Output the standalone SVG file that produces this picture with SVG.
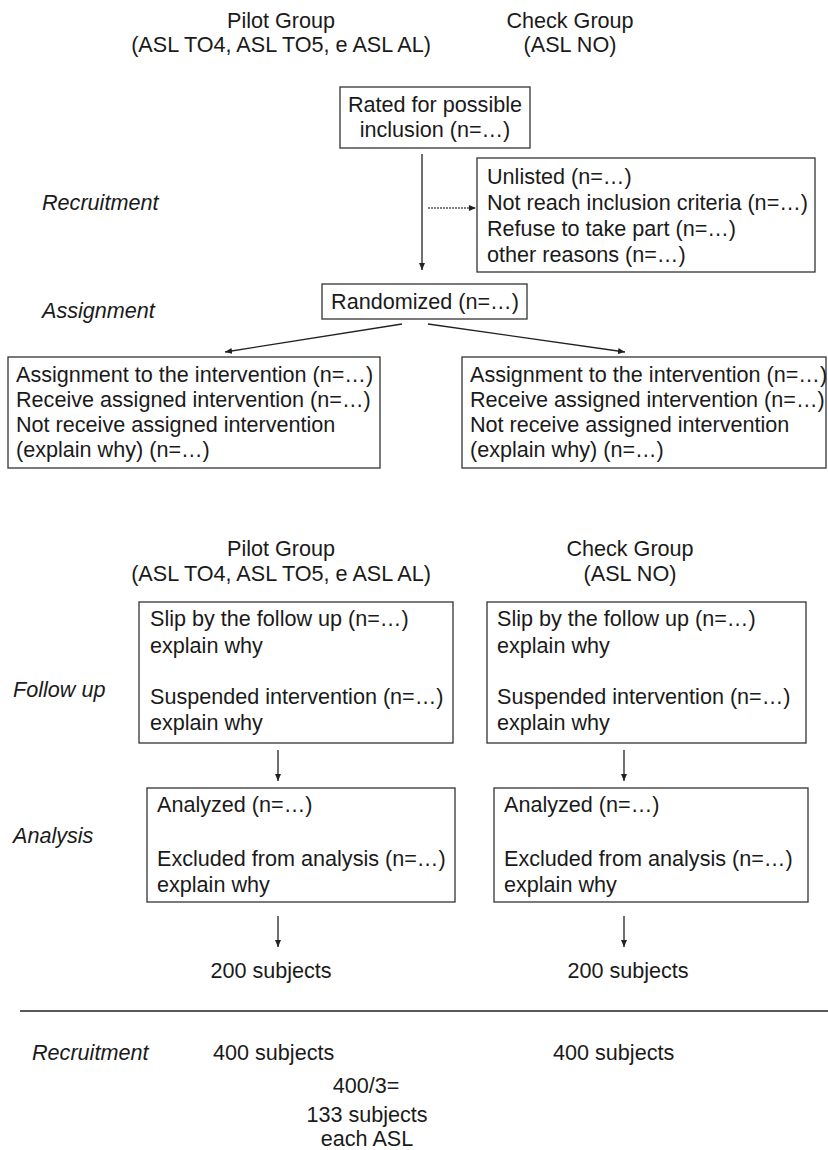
<svg xmlns="http://www.w3.org/2000/svg" width="828" height="1150" viewBox="0 0 828 1150">
<style>
text{font-family:"Liberation Sans",Arial,sans-serif;font-size:21.6px;fill:#1a1a1a}
.c{text-anchor:middle}
.i{font-style:italic}
.box{fill:#fff;stroke:#333;stroke-width:1.3}
.ln{stroke:#222;stroke-width:1.3;fill:none}
.dot{stroke:#555;stroke-width:1.3;stroke-dasharray:2 1;fill:none}
</style>
<defs>
<marker id="ah" markerWidth="8" markerHeight="8" refX="7" refY="4" orient="auto" markerUnits="userSpaceOnUse">
<path d="M0,1 L7,4 L0,7 Z" fill="#222"/>
</marker>
</defs>
<rect width="828" height="1150" fill="#fff"/>
<g id="headers1">
<text class="c" x="281" y="28">Pilot Group</text>
<text class="c" x="281" y="52">(ASL TO4, ASL TO5, e ASL AL)</text>
<text class="c" x="570" y="28">Check Group</text>
<text class="c" x="570" y="52">(ASL NO)</text>
</g>
<g id="stage-labels">
<text class="i" x="42" y="210">Recruitment</text>
<text class="i" x="42" y="318">Assignment</text>
<text class="i" x="13" y="697">Follow up</text>
<text class="i" x="13" y="843">Analysis</text>
</g>
<g id="rated">
<rect class="box" x="340" y="87" width="190" height="61"/>
<text class="c" x="435" y="112">Rated for possible</text>
<text class="c" x="435" y="137">inclusion (n=…)</text>
</g>
<g id="excluded">
<rect class="box" x="477" y="158" width="338" height="114"/>
<text x="487" y="184">Unlisted (n=…)</text>
<text x="487" y="210">Not reach inclusion criteria (n=…)</text>
<text x="487" y="236">Refuse to take part (n=…)</text>
<text x="487" y="262">other reasons (n=…)</text>
</g>
<g id="randomized">
<rect class="box" x="322" y="284" width="205" height="35"/>
<text class="c" x="425" y="309">Randomized (n=…)</text>
</g>
<g id="assign-pilot">
<rect class="box" x="8" y="357" width="372" height="111"/>
<text x="16" y="382">Assignment to the intervention (n=…)</text>
<text x="16" y="407">Receive assigned intervention (n=…)</text>
<text x="16" y="432">Not receive assigned intervention</text>
<text x="16" y="457">(explain why) (n=…)</text>
</g>
<g id="assign-check">
<rect class="box" x="462" y="357" width="364" height="111"/>
<text x="470" y="382">Assignment to the intervention (n=…)</text>
<text x="470" y="407">Receive assigned intervention (n=…)</text>
<text x="470" y="432">Not receive assigned intervention</text>
<text x="470" y="457">(explain why) (n=…)</text>
</g>
<g id="headers2">
<text class="c" x="281" y="556">Pilot Group</text>
<text class="c" x="281" y="581">(ASL TO4, ASL TO5, e ASL AL)</text>
<text class="c" x="630" y="556">Check Group</text>
<text class="c" x="630" y="581">(ASL NO)</text>
</g>
<g id="follow-pilot">
<rect class="box" x="139" y="602" width="314" height="141"/>
<text x="150" y="626">Slip by the follow up (n=…)</text>
<text x="150" y="653">explain why</text>
<text x="150" y="704">Suspended intervention (n=…)</text>
<text x="150" y="730">explain why</text>
</g>
<g id="follow-check">
<rect class="box" x="487" y="602" width="319" height="141"/>
<text x="497" y="626">Slip by the follow up (n=…)</text>
<text x="497" y="653">explain why</text>
<text x="497" y="704">Suspended intervention (n=…)</text>
<text x="497" y="730">explain why</text>
</g>
<g id="analysis-pilot">
<rect class="box" x="147" y="788" width="308" height="114"/>
<text x="157" y="812">Analyzed (n=…)</text>
<text x="157" y="866">Excluded from analysis (n=…)</text>
<text x="157" y="892">explain why</text>
</g>
<g id="analysis-check">
<rect class="box" x="494" y="788" width="314" height="114"/>
<text x="504" y="812">Analyzed (n=…)</text>
<text x="504" y="866">Excluded from analysis (n=…)</text>
<text x="504" y="892">explain why</text>
</g>
<g id="results">
<text class="c" x="271" y="978">200 subjects</text>
<text class="c" x="628" y="978">200 subjects</text>
</g>
<g id="recruitment-summary">
<text class="i" x="32" y="1060">Recruitment</text>
<text x="213" y="1060">400 subjects</text>
<text x="553" y="1060">400 subjects</text>
<text class="c" x="366" y="1093">400/3=</text>
<text class="c" x="367" y="1122">133 subjects</text>
<text class="c" x="367" y="1146">each ASL</text>
</g>
<g id="connectors">
<line class="ln" x1="422" y1="154" x2="422" y2="270" marker-end="url(#ah)"/>
<line class="dot" x1="428" y1="208" x2="476" y2="208" marker-end="url(#ah)"/>
<line class="ln" x1="402" y1="324" x2="225" y2="352" marker-end="url(#ah)"/>
<line class="ln" x1="428" y1="324" x2="625" y2="352" marker-end="url(#ah)"/>
<line class="ln" x1="278" y1="750" x2="278" y2="781" marker-end="url(#ah)"/>
<line class="ln" x1="624" y1="750" x2="624" y2="781" marker-end="url(#ah)"/>
<line class="ln" x1="278" y1="916" x2="278" y2="947" marker-end="url(#ah)"/>
<line class="ln" x1="624" y1="916" x2="624" y2="947" marker-end="url(#ah)"/>
<line class="ln" x1="20" y1="1011" x2="828" y2="1011"/>
</g>
</svg>
